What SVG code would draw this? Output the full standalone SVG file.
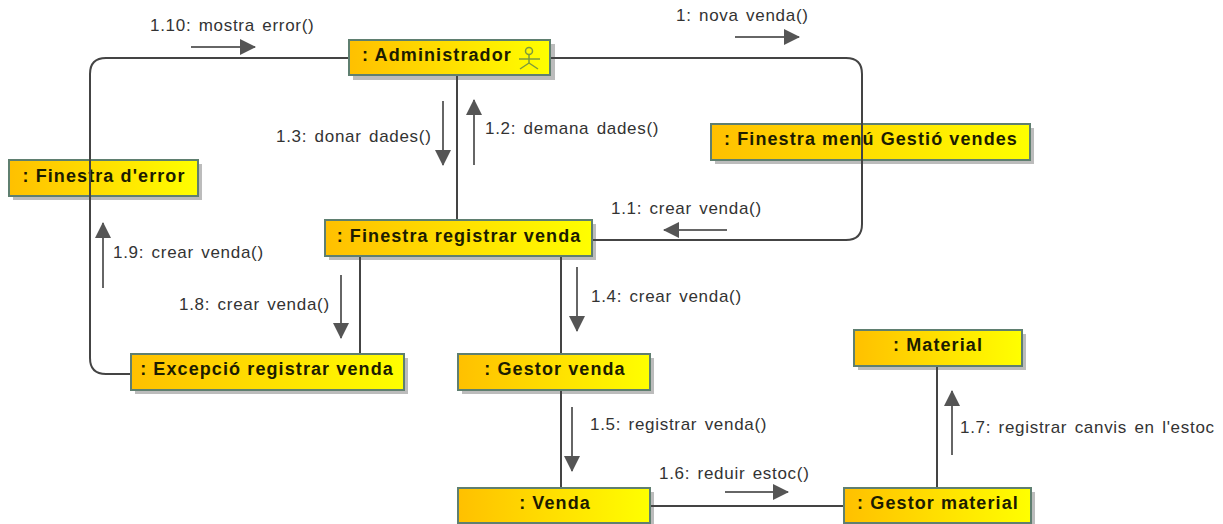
<svg xmlns="http://www.w3.org/2000/svg" width="1223" height="524" viewBox="0 0 1223 524">
<style>
.n{stroke:#5f7f70;stroke-width:2;fill:url(#g)}
.s{fill:#bcbcbc}
.t{font:bold 18px "Liberation Sans",Arial,sans-serif;letter-spacing:1.1px;fill:#1c1c00;text-anchor:middle}
.l{font:17px "Liberation Sans",Arial,sans-serif;letter-spacing:.7px;fill:#333;word-spacing:2px}
.c{fill:none;stroke:#444;stroke-width:2}
.a{fill:none;stroke:#666;stroke-width:2}
</style>
<defs>
<linearGradient id="g"><stop offset="0" stop-color="#ffc000"/><stop offset="1" stop-color="#ffff00"/></linearGradient>
<marker id="h" markerUnits="userSpaceOnUse" markerWidth="16" markerHeight="16" refX="15" refY="8" orient="auto"><path d="M0 0L16 8L0 16Z" fill="#555"/></marker>
</defs>
<rect width="1223" height="524" fill="#fff"/>
<g id="admin"><rect class="s" x="353" y="44" width="202" height="36"/><rect class="n" x="349" y="40" width="201" height="35"/><text class="t" x="437" y="61">: Administrador</text>
<g fill="none" stroke="#7d9a3c" stroke-width="1.5"><circle cx="529" cy="51" r="3.500"/><path d="M529 54.500V63M519 59H540M529 63L520 69M529 63L538 69"/></g></g>
<g id="error"><rect class="s" x="13" y="164" width="189" height="36"/><rect class="n" x="9" y="160" width="189" height="36"/><text class="t" x="104" y="182">: Finestra d'error</text></g>
<g id="menu"><rect class="s" x="715" y="128" width="319" height="36"/><rect class="n" x="711" y="124" width="319" height="36"/><text class="t" x="871" y="145">: Finestra menú Gestió vendes</text></g>
<g id="registrar"><rect class="s" x="329" y="224" width="267" height="36"/><rect class="n" x="325" y="220" width="267" height="36"/><text class="t" x="459" y="242">: Finestra registrar venda</text></g>
<g id="excepcio"><rect class="s" x="135" y="358" width="273" height="36"/><rect class="n" x="131" y="354" width="273" height="36"/><text class="t" x="267" y="375">: Excepció registrar venda</text></g>
<g id="gestorvenda"><rect class="s" x="462" y="358" width="192" height="36"/><rect class="n" x="458" y="354" width="192" height="36"/><text class="t" x="555" y="375">: Gestor venda</text></g>
<g id="material"><rect class="s" x="858" y="334" width="168" height="36"/><rect class="n" x="854" y="330" width="168" height="36"/><text class="t" x="938" y="351">: Material</text></g>
<g id="venda"><rect class="s" x="462" y="492" width="192" height="32"/><rect class="n" x="458" y="488" width="192" height="35"/><text class="t" x="555" y="509">: Venda</text></g>
<g id="gestormaterial"><rect class="s" x="848" y="492" width="187" height="32"/><rect class="n" x="844" y="488" width="187" height="35"/><text class="t" x="938" y="509">: Gestor material</text></g>
<g id="connectors">
<path class="c" d="M348 58H106Q90 58 90 74V358Q90 374 106 374H130"/>
<path class="c" d="M551 58H846Q862 58 862 74V224Q862 240 846 240H593"/>
<path class="c" d="M457 76V219M360 257V353M561 257V353M561 391V487M651 506H843M937 367V487"/>
<path class="a" marker-end="url(#h)" d="M191 47H255"/>
<path class="a" marker-end="url(#h)" d="M735 37H799"/>
<path class="a" marker-end="url(#h)" d="M443 101V165"/>
<path class="a" marker-end="url(#h)" d="M474 165V100"/>
<path class="a" marker-end="url(#h)" d="M727 230H664"/>
<path class="a" marker-end="url(#h)" d="M103 288V223"/>
<path class="a" marker-end="url(#h)" d="M341 275V338"/>
<path class="a" marker-end="url(#h)" d="M577 267V331"/>
<path class="a" marker-end="url(#h)" d="M572 407V471"/>
<path class="a" marker-end="url(#h)" d="M725 492H788"/>
<path class="a" marker-end="url(#h)" d="M952 455V391"/>
</g>
<g id="labels">
<text class="l" x="150" y="31">1.10: mostra error()</text>
<text class="l" x="676" y="21">1: nova venda()</text>
<text class="l" x="276" y="142">1.3: donar dades()</text>
<text class="l" x="485" y="134">1.2: demana dades()</text>
<text class="l" x="611" y="214">1.1: crear venda()</text>
<text class="l" x="113" y="258">1.9: crear venda()</text>
<text class="l" x="179" y="310">1.8: crear venda()</text>
<text class="l" x="591" y="302">1.4: crear venda()</text>
<text class="l" x="590" y="430">1.5: registrar venda()</text>
<text class="l" x="659" y="479">1.6: reduir estoc()</text>
<text class="l" x="960" y="433">1.7: registrar canvis en l'estoc</text>
</g>
</svg>
